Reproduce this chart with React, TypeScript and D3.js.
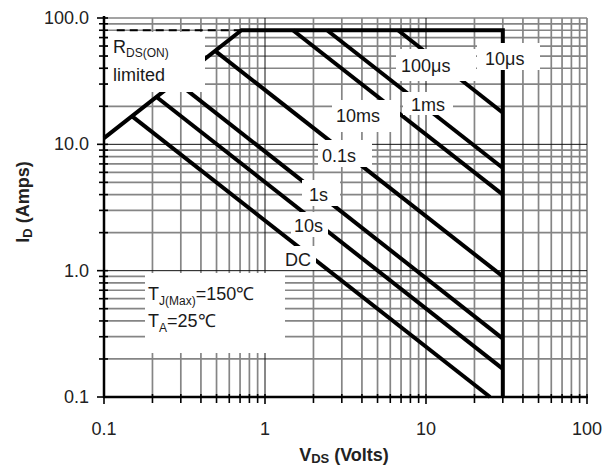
import React from 'react';
import * as d3 from 'd3';

const W = 613;
const H = 467;
const plot = { left: 104, right: 587, top: 18, bottom: 397 };

const xTickValues = [0.1, 1, 10, 100];
const xTickLabels = ['0.1', '1', '10', '100'];
const yTickValues = [0.1, 1, 10, 100];
const yTickLabels = ['0.1', '1.0', '10.0', '100.0'];

// outer envelope: RDS(on) limit -> 80 A limit -> 30 V limit
const envelope: [number, number][] = [[0.1, 11.2], [0.714, 80], [30, 80], [30, 0.1]];
const rdsDashed: [number, number][] = [[0.12, 80], [0.714, 80]];

// pulse lines (start, end) in volts / amps
const pulseNames = ['100μs', '1ms', '10ms', '0.1s', '1s', '10s', 'DC'];
const pulseStart: [number, number][] = [
  [6.7, 80], [2.43, 80], [1.49, 80], [0.49, 54.9], [0.28, 31.4], [0.212, 23.7], [0.149, 16.7],
];
const pulseEnd: [number, number][] = [
  [30, 17.8], [30, 6.5], [30, 4.0], [30, 0.9], [30, 0.29], [30, 0.167], [25, 0.1],
];

// label boxes (white background) in pixels
const labelBoxes = [
  { text: '10μs', x: 477, y: 43, w: 63, h: 27, tx: 485, ty: 65 },
  { text: '100μs', x: 396, y: 49, w: 80, h: 32, tx: 401, ty: 72 },
  { text: '1ms', x: 403, y: 92, w: 50, h: 23, tx: 411, ty: 111 },
  { text: '10ms', x: 332, y: 100, w: 68, h: 32, tx: 336, ty: 122 },
  { text: '0.1s', x: 318, y: 140, w: 54, h: 27, tx: 322, ty: 162 },
  { text: '1s', x: 302, y: 180, w: 38, h: 26, tx: 309, ty: 201 },
  { text: '10s', x: 291, y: 212, w: 37, h: 25, tx: 294, ty: 232 },
  { text: 'DC', x: 282, y: 246, w: 34, h: 24, tx: 285, ty: 266 },
];

const FONT = "'Liberation Sans', Arial, sans-serif";

export default function App() {
  const x = d3.scaleLog().domain([0.1, 100]).range([plot.left, plot.right]);
  const y = d3.scaleLog().domain([0.1, 100]).range([plot.bottom, plot.top]);
  const line = d3.line<[number, number]>().x(d => x(d[0])).y(d => y(d[1]));

  const xGrid = x.ticks();
  const yGrid = y.ticks();
  const isMajor = (v: number) => Math.abs(v - 1) < 1e-9 || Math.abs(v - 10) < 1e-9;

  return (
    <svg width={W} height={H} style={{ display: 'block', position: 'absolute', left: 0, top: 0 }}>
      <rect width={W} height={H} fill="#fff" />
      {/* minor grid */}
      {xGrid.filter(v => !isMajor(v) && v > 0.1).map((v, i) => (
        <line key={'gx' + i} x1={x(v)} x2={x(v)} y1={plot.top} y2={plot.bottom} stroke="#858585" strokeWidth={1.7} />
      ))}
      {yGrid.filter(v => !isMajor(v) && v > 0.1).map((v, i) => (
        <line key={'gy' + i} x1={plot.left} x2={plot.right} y1={y(v)} y2={y(v)} stroke="#858585" strokeWidth={1.7} />
      ))}
      {/* major grid */}
      {xGrid.filter(isMajor).map((v, i) => (
        <line key={'mx' + i} x1={x(v)} x2={x(v)} y1={plot.top} y2={plot.bottom} stroke="#111" strokeWidth={1} />
      ))}
      {yGrid.filter(isMajor).map((v, i) => (
        <line key={'my' + i} x1={plot.left} x2={plot.right} y1={y(v)} y2={y(v)} stroke="#111" strokeWidth={1} />
      ))}

      {/* axes */}
      <line x1={plot.left} x2={plot.left} y1={plot.top - 2} y2={plot.bottom + 1} stroke="#000" strokeWidth={2.5} />
      <line x1={plot.left - 1} x2={plot.right + 1} y1={plot.bottom} y2={plot.bottom} stroke="#000" strokeWidth={2.5} />
      {yGrid.map((v, i) => {
        const m = yTickValues.some(t => Math.abs(t - v) < 1e-9);
        return <line key={'ty' + i} x1={plot.left - (m ? 7 : 5)} x2={plot.left + 4} y1={y(v)} y2={y(v)} stroke="#000" strokeWidth={1.6} />;
      })}
      {xGrid.map((v, i) => {
        const m = xTickValues.some(t => Math.abs(t - v) < 1e-9);
        return <line key={'tx' + i} x1={x(v)} x2={x(v)} y1={plot.bottom - 3} y2={plot.bottom + (m ? 7 : 6)} stroke="#000" strokeWidth={1.6} />;
      })}

      {/* SOA curves */}
      <path d={line(rdsDashed) || ''} fill="none" stroke="#000" strokeWidth={2.2} strokeDasharray="8,5" />
      <path d={line(envelope) || ''} fill="none" stroke="#000" strokeWidth={4} strokeLinejoin="miter" />
      {pulseNames.map((n, i) => (
        <path key={n} d={line([pulseStart[i], pulseEnd[i]]) || ''} fill="none" stroke="#000" strokeWidth={4} />
      ))}

      {/* labels */}
      <g fontFamily={FONT} fontSize={18} fill="#1a1a1a">
        {labelBoxes.map(b => (
          <g key={b.text}>
            <rect x={b.x} y={b.y} width={b.w} height={b.h} fill="#fff" />
            <text x={b.tx} y={b.ty}>{b.text}</text>
          </g>
        ))}
        <rect x={108} y={32} width={97} height={60} fill="#fff" />
        <text x={113} y={53}>
          R<tspan fontSize={12} dy={4}>DS(ON)</tspan>
        </text>
        <text x={113} y={81}>limited</text>

        <rect x={145} y={273} width={140} height={80} fill="#fff" />
        <text x={148} y={300}>
          T<tspan fontSize={12} dy={5}>J(Max)</tspan><tspan dy={-5}>=150℃</tspan>
        </text>
        <text x={148} y={327}>
          T<tspan fontSize={12} dy={5}>A</tspan><tspan dy={-5}>=25℃</tspan>
        </text>
      </g>

      {/* tick labels */}
      <g fontFamily={FONT} fontSize={18} fill="#222">
        {yTickValues.map((v, i) => (
          <text key={'yl' + i} x={89} y={y(v)} textAnchor="end" dominantBaseline="central">{yTickLabels[i]}</text>
        ))}
        {xTickValues.map((v, i) => (
          <text key={'xl' + i} x={x(v)} y={429} textAnchor="middle" dominantBaseline="central">{xTickLabels[i]}</text>
        ))}
      </g>

      {/* axis titles */}
      <text x={344} y={461} textAnchor="middle" fontFamily={FONT} fontSize={18} fontWeight="bold" fill="#222">
        V<tspan fontSize={13} dy={2}>DS</tspan><tspan dy={-2}> (Volts)</tspan>
      </text>
      <text transform="translate(29,202) rotate(-90)" textAnchor="middle" fontFamily={FONT} fontSize={18} fontWeight="bold" fill="#222">
        I<tspan fontSize={13} dy={3}>D</tspan><tspan dy={-3}> (Amps)</tspan>
      </text>
    </svg>
  );
}
